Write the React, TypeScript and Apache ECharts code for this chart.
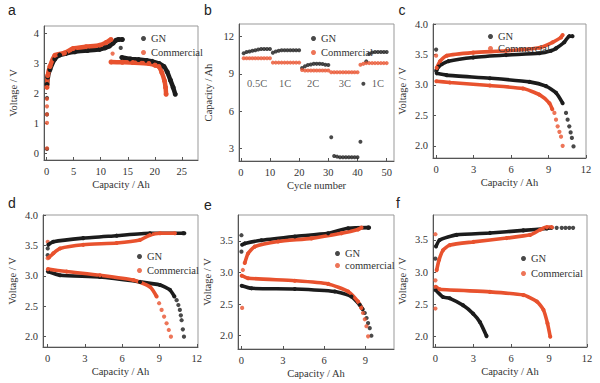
import React, { useEffect, useRef } from "react";
import * as echarts from "echarts";

// ---------- data ----------
// Panel a
const aGnDots = [[0.05, 0.15], [0.05, 1.3], [0.05, 1.85]];
const aGnCharge = [[0.05, 2.3], [0.2, 2.55], [0.6, 2.8], [1.5, 3.15], [2.4, 3.28], [3.5, 3.33], [5.2, 3.39], [7.5, 3.43], [9.8, 3.47], [10.8, 3.52], [11.6, 3.58], [12.3, 3.68], [12.8, 3.77], [13.3, 3.8], [14, 3.8]];
const aGnMid = [[13.7, 3.52]];
const aGnDischarge = [[13.9, 3.2], [15.5, 3.15], [17, 3.13], [18.5, 3.1], [19.5, 3.07], [20.8, 3.0], [21.7, 2.9], [22.3, 2.72], [22.9, 2.44], [23.4, 2.2], [23.8, 1.97]];
const aCmDots = [[0.05, 0.17], [0.05, 1.02], [0.05, 1.3], [0.05, 1.57], [0.05, 1.82]];
const aCmCharge = [[0.05, 2.2], [0.2, 2.6], [0.6, 2.9], [1.5, 3.27], [3.3, 3.35], [4.9, 3.5], [7.3, 3.56], [9.8, 3.61], [11, 3.7], [11.9, 3.8]];
const aCmMid = [[12.2, 3.33]];
const aCmDischarge = [[11.9, 3.05], [14, 3.04], [15.9, 3.03], [18.9, 3.0], [20.1, 2.94], [20.75, 2.9], [21.3, 2.7], [21.8, 2.42], [22.0, 2.2], [22.1, 1.97]];

// Panel b
const bCycles = Array.from({ length: 50 }, (_, i) => i + 1);
const bGn = [10.65, 10.75, 10.8, 10.85, 10.9, 10.95, 11.0, 11.0, 11.0, 11.0,
  10.7, 10.8, 10.85, 10.9, 10.9, 10.9, 10.9, 10.9, 10.9, 10.9,
  9.46, 9.6, 9.7, 9.75, 9.8, 9.8, 9.8, 9.78, 9.72, 9.7,
  3.9, 2.4, 2.35, 2.3, 2.3, 2.3, 2.3, 2.3, 2.3, 2.3,
  3.55, 8.2, 10.0, 10.6, 10.72, 10.75, 10.75, 10.75, 10.75, 10.75];
const bCm = [10.25, 10.25, 10.25, 10.25, 10.25, 10.25, 10.25, 10.25, 10.25, 10.25,
  9.9, 9.9, 9.9, 9.9, 9.9, 9.9, 9.9, 9.9, 9.9, 9.9,
  9.3, 9.27, 9.27, 9.27, 9.27, 9.27, 9.27, 9.27, 9.27, 9.27,
  9.13, 9.13, 9.13, 9.13, 9.13, 9.13, 9.13, 9.13, 9.13, 9.13,
  9.73, 9.8, 9.86, 9.86, 9.86, 9.86, 9.86, 9.86, 9.86, 9.86];
const bRateLabels = ["0.5C", "1C", "2C", "3C", "1C"];
const bRateX = [5.6, 15.2, 24.8, 35.7, 47];
const bRateY = 8.2;

// Panel c
const cGnDots = [[0, 3.58], [0, 3.23]];
const cGnCharge = [[0.05, 3.25], [0.2, 3.3], [0.45, 3.34], [0.98, 3.39], [2.97, 3.45], [5.6, 3.49], [8.27, 3.52], [9.2, 3.56], [9.6, 3.6], [10.26, 3.7], [10.66, 3.8], [10.92, 3.8]];
const cGnDischarge = [[0.05, 3.19], [0.85, 3.16], [4.3, 3.11], [7.48, 3.05], [8.8, 2.98], [9.6, 2.87], [10.13, 2.7]];
const cGnTail = [[10.4, 2.54], [10.53, 2.43], [10.66, 2.32], [10.77, 2.22], [10.87, 2.13], [11.0, 1.99]];
const cCmDots = [[0, 3.48]];
const cCmCharge = [[0.05, 3.28], [0.32, 3.39], [0.85, 3.48], [2.97, 3.53], [5.6, 3.56], [8.27, 3.61], [9.33, 3.7], [10.0, 3.78], [10.13, 3.82]];
const cCmDischarge = [[0.02, 3.06], [1.1, 3.04], [4.3, 2.99], [6.95, 2.94], [8.27, 2.84], [9.07, 2.7], [9.3, 2.6]];
const cCmTail = [[9.47, 2.54], [9.6, 2.43], [9.73, 2.32], [9.87, 2.23], [10.0, 2.15], [10.13, 2.0]];

// Panel d
const dGnDots = [[0, 3.34], [0, 3.45]];
const dGnCharge = [[0.05, 3.51], [0.45, 3.56], [2.86, 3.62], [5.55, 3.66], [8.23, 3.7], [10.9, 3.7], [11.0, 3.7]];
const dGnDischarge = [[0.02, 3.07], [0.99, 3.01], [4.2, 2.98], [7.43, 2.9], [9.04, 2.85], [9.84, 2.77], [10.2, 2.66]];
const dGnTail = [[10.38, 2.6], [10.52, 2.52], [10.64, 2.44], [10.72, 2.35], [10.78, 2.27], [10.88, 2.12], [10.97, 2.0]];
const dCmDots = [[0, 3.56], [0, 3.29]];
const dCmCharge = [[0.1, 3.3], [0.45, 3.37], [0.99, 3.45], [2.86, 3.51], [5.55, 3.54], [7.43, 3.59], [8.23, 3.67], [9.04, 3.7], [10.24, 3.7]];
const dCmDischarge = [[0.02, 3.11], [1.53, 3.07], [4.2, 3.01], [6.89, 2.93], [8.23, 2.82], [8.77, 2.66]];
const dCmTail = [[8.97, 2.55], [9.17, 2.44], [9.37, 2.33], [9.57, 2.22], [9.75, 2.11], [9.92, 2.0]];

// Panel e
const eGnDots = [[0, 3.59], [0, 3.33]];
const eGnCharge = [[0.05, 3.44], [0.24, 3.46], [1.45, 3.51], [3.87, 3.57], [6.29, 3.62], [7.74, 3.7], [9.19, 3.71], [9.26, 3.71]];
const eGnDischarge = [[0.02, 2.79], [0.73, 2.75], [3.87, 2.74], [6.77, 2.7], [7.98, 2.62], [8.58, 2.49], [8.8, 2.42]];
const eGnTail = [[8.95, 2.36], [9.08, 2.28], [9.19, 2.2], [9.31, 2.12], [9.43, 2.0]];
const eCmDots = [[0.05, 2.44], [0.1, 3.04]];
const eCmCharge = [[0.24, 3.15], [0.48, 3.3], [0.97, 3.41], [2.66, 3.49], [5.08, 3.54], [7.26, 3.62], [8.46, 3.68], [8.71, 3.71]];
const eCmDischarge = [[0.02, 2.95], [0.48, 2.91], [3.87, 2.87], [6.29, 2.82], [7.74, 2.7], [8.46, 2.54], [8.7, 2.44]];
const eCmTail = [[8.82, 2.36], [8.95, 2.26], [9.07, 2.15], [9.19, 1.99]];

// Panel f
const fGnDots = [[0, 3.21]];
const fGnCharge = [[0.05, 3.4], [0.34, 3.5], [1.67, 3.58], [4.32, 3.61], [6.96, 3.65], [8.82, 3.68], [9.2, 3.69]];
const fGnTail = [[9.6, 3.69], [10.0, 3.69], [10.3, 3.69], [10.6, 3.69], [10.9, 3.69]];
const fGnDischarge = [[0.02, 2.72], [0.6, 2.61], [1.14, 2.59], [2.19, 2.48], [2.99, 2.35], [3.52, 2.22], [4.05, 2.0]];
const fCmDots = [[0, 3.59], [0, 2.87], [0, 2.43]];
const fCmCharge = [[0.1, 3.03], [0.29, 3.19], [0.6, 3.34], [1.14, 3.42], [3.0, 3.47], [5.64, 3.53], [7.5, 3.58], [8.3, 3.66], [8.82, 3.7], [9.22, 3.7]];
const fCmDischarge = [[0.02, 2.77], [0.34, 2.73], [4.32, 2.69], [6.96, 2.64], [8.03, 2.54], [8.55, 2.41], [8.87, 2.2], [9.09, 1.99]];

// ticks
const aXTicks = [0, 5, 10, 15, 20, 25];
const aYTicks = [0, 1, 2, 3, 4];
const bXTicks = [0, 10, 20, 30, 40, 50];
const bYTicks = [3, 6, 9, 12];
const capTicks = [0, 3, 6, 9, 12];
const capTicksE = [0, 3, 6, 9];
const vTicks = [2.0, 2.5, 3.0, 3.5, 4.0];
const vTicksE = [2.0, 2.5, 3.0, 3.5];

const BLACK = "#1c1c1c";
const RED = "#e8522e";
const SERIF = "Liberation Serif";
const SANS = "Liberation Sans";

const grids = [
  { left: 44, top: 26, width: 154, height: 134 },
  { left: 239, top: 24, width: 155, height: 137 },
  { left: 433, top: 24, width: 153, height: 134 },
  { left: 43, top: 215, width: 155, height: 132 },
  { left: 238, top: 215, width: 156, height: 134 },
  { left: 433, top: 215, width: 154, height: 132 },
];

function xAxis(gi: number, min: number, max: number, ticks: number[], name: string) {
  return {
    type: "value", gridIndex: gi, min, max, name, nameLocation: "middle", nameGap: 19,
    nameTextStyle: { fontFamily: SERIF, fontSize: 10.5, color: "#333" },
    axisLine: { show: true, onZero: false, lineStyle: { color: "#555", width: 1 } },
    axisTick: { show: true, inside: true, length: 3, customValues: ticks, lineStyle: { color: "#555" } },
    axisLabel: { customValues: ticks, fontFamily: SERIF, fontSize: 10.5, color: "#333", margin: 6 },
    splitLine: { show: false },
  };
}
function yAxis(gi: number, min: number, max: number, ticks: number[], name: string, dec: number) {
  return {
    type: "value", gridIndex: gi, min, max, name, nameLocation: "middle", nameGap: 25,
    nameTextStyle: { fontFamily: SERIF, fontSize: 10.5, color: "#333" },
    axisLine: { show: true, onZero: false, lineStyle: { color: "#555", width: 1 } },
    axisTick: { show: true, inside: true, length: 3, customValues: ticks, lineStyle: { color: "#555" } },
    axisLabel: { customValues: ticks, fontFamily: SERIF, fontSize: 10.5, color: "#333", margin: 5, formatter: (v: number) => v.toFixed(dec) },
    splitLine: { show: false },
  };
}
function line(name: string, color: string, data: number[][], gi: number, w = 3.6) {
  return {
    type: "line", name, xAxisIndex: gi, yAxisIndex: gi, data, smooth: 0.2,
    symbol: "circle", symbolSize: w + 0.5, showSymbol: true,
    lineStyle: { color, width: w }, itemStyle: { color }, silent: true,
  };
}
function dots(name: string, color: string, data: number[][], gi: number, s = 4.2) {
  return {
    type: "scatter", name, xAxisIndex: gi, yAxisIndex: gi, data, symbol: "circle", symbolSize: s,
    itemStyle: { color }, silent: true,
  };
}
function legend(left: number, top: number, names: string[], gap: number) {
  return {
    data: names, orient: "vertical", left, top, icon: "circle", itemWidth: 5, itemHeight: 5,
    itemGap: gap, textStyle: { fontFamily: SERIF, fontSize: 10.5, color: "#333", lineHeight: 11 },
    selectedMode: false,
  };
}

export default function App() {
  const ref = useRef<HTMLDivElement>(null);
  useEffect(() => {
    if (!ref.current) return;
    const chart = echarts.init(ref.current, null, { renderer: "svg" });
    const series: any[] = [
      // a
      dots("GN", BLACK, aGnDots, 0), line("GN", BLACK, aGnCharge, 0, 4.5), dots("GN", BLACK, aGnMid, 0),
      line("GN", BLACK, aGnDischarge, 0, 4.5),
      dots("Commercial", RED, aCmDots, 0), line("Commercial", RED, aCmCharge, 0, 4.5), dots("Commercial", RED, aCmMid, 0),
      line("Commercial", RED, aCmDischarge, 0, 4.5),
      // b
      dots("GN", BLACK, bCycles.map((c, i) => [c, bGn[i]]), 1, 4),
      dots("Commercial", RED, bCycles.map((c, i) => [c, bCm[i]]), 1, 4),
      {
        type: "scatter", xAxisIndex: 1, yAxisIndex: 1, symbolSize: 0, silent: true,
        data: bRateLabels.map((t, i) => ({ value: [bRateX[i], bRateY], name: t })),
        label: { show: true, position: "inside", formatter: (p: any) => p.name, fontFamily: SERIF, fontSize: 10.5, color: "#333" },
      },
      // c
      dots("GN", BLACK, cGnDots, 2), line("GN", BLACK, cGnCharge, 2), line("GN", BLACK, cGnDischarge, 2), dots("GN", BLACK, cGnTail, 2),
      dots("Commercial", RED, cCmDots, 2), line("Commercial", RED, cCmCharge, 2), line("Commercial", RED, cCmDischarge, 2), dots("Commercial", RED, cCmTail, 2),
      // d
      dots("GN", BLACK, dGnDots, 3), line("GN", BLACK, dGnCharge, 3), line("GN", BLACK, dGnDischarge, 3), dots("GN", BLACK, dGnTail, 3),
      dots("Commercial", RED, dCmDots, 3), line("Commercial", RED, dCmCharge, 3), line("Commercial", RED, dCmDischarge, 3), dots("Commercial", RED, dCmTail, 3),
      // e
      dots("GN", BLACK, eGnDots, 4), line("GN", BLACK, eGnCharge, 4), line("GN", BLACK, eGnDischarge, 4), dots("GN", BLACK, eGnTail, 4),
      dots("commercial", RED, eCmDots, 4), line("commercial", RED, eCmCharge, 4), line("commercial", RED, eCmDischarge, 4), dots("commercial", RED, eCmTail, 4),
      // f
      dots("GN", BLACK, fGnDots, 5), line("GN", BLACK, fGnCharge, 5), dots("GN", BLACK, fGnTail, 5), line("GN", BLACK, fGnDischarge, 5),
      dots("Commercial", RED, fCmDots, 5), line("Commercial", RED, fCmCharge, 5), line("Commercial", RED, fCmDischarge, 5),
    ];
    const letters = [
      ["a", 12, 10], ["b", 208, 10], ["c", 402, 10], ["d", 12, 203], ["e", 208, 205], ["f", 398, 203],
    ];
    chart.setOption({
      animation: false,
      backgroundColor: "#ffffff",
      textStyle: { fontFamily: SERIF },
      grid: grids.map((g) => ({ ...g, show: true, borderColor: "#999", borderWidth: 1, backgroundColor: "transparent" })),
      xAxis: [
        xAxis(0, -0.5, 28, aXTicks, "Capacity / Ah"),
        xAxis(1, -0.6, 52.5, bXTicks, "Cycle number"),
        xAxis(2, -0.25, 12, capTicks, "Capacity / Ah"),
        xAxis(3, -0.38, 12.1, capTicks, "Capacity / Ah"),
        xAxis(4, -0.25, 11.07, capTicksE, "Capacity / Ah"),
        xAxis(5, -0.19, 12, capTicks, "Capacity / Ah"),
      ],
      yAxis: [
        yAxis(0, -0.22, 4.25, aYTicks, "Voltage / V", 0),
        yAxis(1, 2, 13, bYTicks, "Capacity / Ah", 0),
        yAxis(2, 1.8, 4.0, vTicks, "Voltage / V", 1),
        yAxis(3, 1.83, 4.0, vTicks, "Voltage / V", 1),
        yAxis(4, 1.79, 3.91, vTicksE, "Voltage / V", 1),
        yAxis(5, 1.83, 3.89, vTicksE, "Voltage / V", 1),
      ],
      legend: [
        legend(136, 28, ["GN", "Commercial"], 3),
        legend(306, 28, ["GN", "Commercial"], 3),
        legend(483, 26, ["GN", "Commercial"], 1),
        legend(132, 246, ["GN", "Commercial"], 3),
        legend(330, 243, ["GN", "commercial"], 1),
        legend(516, 248, ["GN", "Commercial"], 4),
      ],
      graphic: letters.map(([t, x, y]) => ({
        type: "text", x: x as number, y: y as number,
        style: { text: t as string, fontFamily: SANS, fontSize: 14, fill: "#222", textAlign: "center", textVerticalAlign: "middle" },
      })),
      series,
    });
    return () => chart.dispose();
  }, []);
  return <div ref={ref} style={{ position: "absolute", left: 0, top: 0, width: 600, height: 383 }} />;
}
